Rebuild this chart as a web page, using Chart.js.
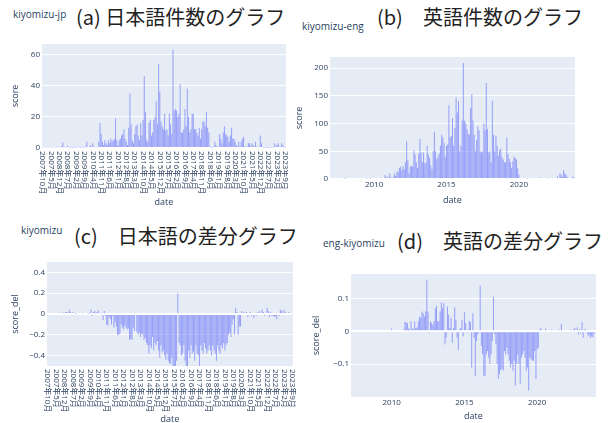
<!DOCTYPE html>
<html>
<head>
<meta charset="utf-8">
<script src="https://cdn.jsdelivr.net/npm/chart.js@4.4.0/dist/chart.umd.min.js"></script>
<style>
  html, body { margin: 0; padding: 0; background: #fff; width: 616px; height: 423px; overflow: hidden; }
  body { position: relative; }
  canvas { position: absolute; }
  .name { position: absolute; font-family: "Open Sans", sans-serif; font-size: 10px; line-height: 1; color: #2a3f5f; white-space: nowrap; }
  .cap { position: absolute; font-family: "Noto Sans CJK JP", sans-serif; font-size: 20px; line-height: 1; color: #222; white-space: nowrap; }
</style>
</head>
<body>
<div class="name" style="left:13px;top:9px">kiyomizu-jp</div>
<div class="cap" style="left:76px;top:7px">(a) 日本語件数のグラフ</div>
<div class="name" style="left:302px;top:21px">kiyomizu-eng</div>
<div class="cap" style="left:377px;top:7px">(b)　英語件数のグラフ</div>
<div class="name" style="left:21px;top:225px">kiyomizu</div>
<div class="cap" style="left:74px;top:226px">(c)　日本語の差分グラフ</div>
<div class="name" style="left:323px;top:238px">eng-kiyomizu</div>
<div class="cap" style="left:397px;top:231px">(d)　英語の差分グラフ</div>

<canvas id="chartA" width="288" height="180" style="left:0;top:30px"></canvas>
<canvas id="chartB" width="296" height="170" style="left:290px;top:40px"></canvas>
<canvas id="chartC" width="296" height="190" style="left:0;top:240px"></canvas>
<canvas id="chartD" width="310" height="180" style="left:300px;top:250px"></canvas>

<script>
// month categories of the Japanese charts are sorted as strings (10,11,12,1..9 in each year)
const jpYears = [2007, 2008, 2009, 2010, 2011, 2012, 2013, 2014, 2015, 2016, 2017, 2018, 2019, 2020, 2021, 2022, 2023];
const jpMonthOrder = [10, 11, 12, 1, 2, 3, 4, 5, 6, 7, 8, 9];
const jpMonths = jpYears.flatMap(y => jpMonthOrder.map(m => y + '年' + m + '月'));
const jpTickStep = 7;

function monthRange(year, month, count) {
    const out = [];
    for (let i = 0; i < count; i++) {
        const k = (year * 12 + month - 1) + i;
        out.push(Math.floor(k / 12) + '-' + String(k % 12 + 1).padStart(2, '0'));
    }
    return out;
}
const engMonths = monthRange(2007, 1, 203);
const engDiffMonths = monthRange(2007, 4, 202);
const engTickMonths = ['2010-01', '2015-01', '2020-01'];

// (a) kiyomizu-jp score
const jpCounts = [
    0.5, 0.5, 0.5, 0.5, 0.5, 0.5, 0.5, 0.5, 0.5, 0.5, 0.5, 0.5,
    1, 0.5, 0.5, 0.5, 1.5, 3.5, 1, 0.5, 0.5, 1.5, 0.5, 0.3,
    0.3, 0.3, 0.3, 0.3, 0.3, 0.3, 0.5, 1, 0.3, 0.3, 0.3, 0.3,
    1, 4, 0.5, 0.5, 2, 1, 3, 1, 0.5, 0.5, 0.5, 4,
    16, 9, 4, 2, 5, 3, 2, 5, 3, 6, 4, 5,
    6, 19, 5, 2, 5, 6, 8, 9, 12, 6, 4, 2,
    13, 35, 15, 5, 3, 9, 14, 15, 8, 5, 16, 8,
    18, 46, 23, 5, 4, 16, 18, 8, 10, 18, 20, 30,
    15, 54, 36, 17, 14, 12, 22, 11, 12, 8, 22, 15,
    9, 63, 24, 25, 24, 20, 22, 41, 10, 10, 12, 25,
    14, 38, 20, 10, 12, 22, 22, 12, 12, 10, 8, 13,
    6, 12, 17, 17, 14, 23, 13, 10, 1, 0.3, 0.3, 0.5,
    4, 2, 0.5, 1, 9, 6, 3, 10, 14, 9, 8, 7,
    4, 8, 13, 6, 6, 4, 2, 1, 4, 1, 4, 6,
    7, 1, 0.5, 1, 3, 3, 1, 3, 2, 1, 4, 1,
    0.5, 1, 8, 3, 0.5, 0.3, 0.3, 0.3, 0.3, 0.3, 0.3, 0.3,
    0.3, 0.5, 3, 1, 2, 3, 1, 1, 3, 2, 0.5, 0.3
];

// (b) kiyomizu-eng score, monthly from 2007-01
const engCounts = [
    0, 0, 0, 0, 0, 0, 0, 0, 0, 0, 0, 0,
    0.5, 0, 0, 0, 0, 0, 0, 0, 0, 0, 0, 0,
    0, 0, 0, 0, 0, 0, 1, 0, 0, 1, 0, 0,
    0, 0, 0, 0, 0, 0, 0, 0, 0, 7, 3, 5,
    2, 10, 3, 2, 4, 10, 6, 14, 12, 20, 22, 16,
    24, 18, 30, 68, 34, 10, 22, 24, 22, 52, 44, 30,
    20, 45, 72, 48, 30, 48, 28, 30, 60, 44, 38, 25,
    18, 50, 85, 50, 36, 40, 46, 60, 80, 75, 65, 40,
    60, 62, 133, 75, 78, 110, 60, 92, 147, 120, 140, 50,
    60, 105, 209, 105, 100, 90, 82, 80, 128, 153, 105, 80,
    50, 70, 95, 88, 50, 48, 50, 100, 88, 173, 90, 48,
    50, 30, 141, 80, 50, 78, 60, 42, 52, 55, 40, 35,
    30, 30, 75, 45, 36, 30, 20, 32, 40, 38, 35, 20,
    8, 2, 0, 0, 0, 0, 0, 1, 0, 0, 0, 0,
    0, 1.5, 0, 0, 0, 3, 0, 0, 0, 0, 0, 0,
    1, 0, 0, 0, 0, 0, 2, 0, 5, 0, 10, 8,
    4, 16, 10, 8, 4, 2, 0, 0, 3, 4, 1
];

// (c) kiyomizu score_del, same categories as (a)
const jpDiff = [
    0.01, 0.01, 0.01, 0.01, 0.01, 0.01, 0.01, 0.01, 0.01, 0.01, 0.015, 0.01,
    0.01, 0.015, 0.01, 0.02, 0.02, 0.015, 0.04, 0.02, 0.01, 0.02, 0.01, 0.005,
    0.005, 0.01, 0.01, 0.01, 0.01, 0.005, 0.01, 0.01, 0.01, 0.01, 0.005, 0.005,
    0.04, -0.02, 0.02, 0.03, 0.005, 0.02, 0.035, 0.005, 0, 0.005, -0.06, 0.03,
    -0.02, -0.1, -0.11, -0.03, -0.05, -0.1, -0.02, -0.13, -0.08, -0.12, -0.2, -0.2,
    -0.19, -0.1, -0.13, -0.15, -0.11, -0.13, -0.15, -0.14, -0.25, -0.24, -0.25, -0.13,
    -0.16, 0.01, -0.17, -0.2, -0.18, -0.22, -0.19, -0.2, -0.25, -0.23, -0.28, -0.3,
    -0.38, -0.3, -0.33, -0.22, -0.35, -0.28, -0.3, -0.26, -0.35, -0.42, -0.3, -0.37,
    -0.35, -0.4, -0.44, -0.38, -0.45, -0.47, -0.48, -0.42, -0.5, -0.5, -0.5, -0.45,
    0.2, -0.28, -0.3, -0.4, -0.38, -0.3, -0.45, -0.5, -0.5, -0.35, -0.42, -0.3,
    -0.38, -0.36, -0.45, -0.3, -0.38, -0.4, -0.5, -0.3, -0.35, -0.38, -0.28, -0.33,
    -0.38, -0.35, -0.3, -0.35, -0.4, -0.3, -0.35, -0.38, -0.45, -0.3, -0.35, -0.38,
    -0.3, -0.33, -0.28, -0.35, -0.3, -0.28, -0.2, -0.18, -0.22, -0.1, -0.05, -0.2,
    0.06, 0.02, -0.2, -0.12, -0.12, 0.03, 0.01, 0.02, -0.01, 0.02, -0.03, 0.01,
    0.02, -0.02, 0.01, -0.04, 0.01, -0.02, 0.02, 0.01, 0.03, -0.01, 0.04, 0.02,
    -0.02, 0.01, 0.06, 0.03, -0.03, 0.02, -0.02, -0.02, -0.03, -0.02, -0.05, 0.01,
    -0.02, 0.04, 0.03, -0.01, 0.04, 0.02, -0.01, 0.01, 0.02, 0.01, -0.01, -0.005
];

// (d) eng-kiyomizu score_del, monthly from 2007-04
const engDiff = [
    0.003, 0.003, 0.003, 0.003, 0.003, 0.003, 0.003, 0.003, 0.003, 0.003,
    0.003, 0.003, 0.003, 0.003, 0.003, 0.003, 0.003, 0.003, 0.003, 0.003,
    0.003, 0.003, 0.003, 0.003, 0.003, 0.003, 0.003, 0.003, 0.003, 0.003,
    0.003, 0.003, 0.003, 0.008, 0.003, 0.003, 0.003, 0.003, 0.003, 0.003,
    0.003, 0.003, 0.003, 0.005, 0.028, 0.027, 0.025, 0.008, 0.005, 0.03,
    0.008, 0.006, 0.03, 0.01, 0.012, 0.03, 0.045, 0.04, 0.06, 0.055,
    0.045, 0.06, 0.157, 0.06, -0.005, 0.03, 0.025, 0.02, 0.03, 0.07,
    0.078, 0.03, 0.03, 0.06, 0.087, 0.07, 0.086, -0.04, -0.02, 0.075,
    0.05, 0.01, 0.04, -0.035, 0.01, 0.073, 0.035, -0.02, -0.057, 0.005,
    0.01, 0.035, -0.015, 0.058, 0.025, -0.005, 0.005, 0.032, 0.028, -0.11,
    0.055, -0.02, -0.137, -0.03, -0.01, -0.005, 0.138, -0.045, -0.07, -0.137,
    -0.135, -0.07, -0.06, -0.08, -0.1, -0.07, -0.03, 0.105, -0.01, -0.04,
    -0.1, -0.145, -0.13, -0.117, -0.115, -0.12, -0.06, -0.07, -0.05, -0.07,
    -0.09, -0.11, -0.1, -0.12, -0.09, -0.165, -0.1, -0.07, -0.1, -0.16,
    -0.08, -0.07, -0.06, -0.08, -0.12, -0.11, -0.18, -0.08, -0.085, -0.09,
    -0.09, -0.06, -0.145, -0.055, -0.05, 0.005, 0.01, 0.003, 0.003, 0.003,
    0.008, 0.003, 0.003, 0.003, 0.003, 0.005, 0.003, 0.003, 0.004, 0.003,
    0.003, 0.005, 0.003, 0.022, 0.003, 0.003, 0.003, 0.003, 0.003, 0.003,
    0.003, 0.005, 0.003, 0.005, 0.01, 0.003, 0.012, -0.01, 0.007, -0.008,
    0.027, -0.02, 0.005, 0.006, -0.005, -0.015, -0.01, -0.02, -0.015, -0.018,
    -0.008, 0.003
];

const yTicksA = [0, 20, 40, 60];
const yTicksB = [0, 50, 100, 150, 200];
const yTicksC = [-0.4, -0.2, 0, 0.2, 0.4];
const yTicksD = [-0.1, 0, 0.1];

const barColor = 'rgba(99, 110, 250, 0.6)';
const textColor = '#2a3f5f';

// plotly-like plot background
const plotBg = {
    id: 'plotBg',
    beforeDraw(chart) {
        const { ctx, chartArea: a } = chart;
        ctx.save();
        ctx.fillStyle = '#E5ECF6';
        ctx.fillRect(a.left, a.top, a.right - a.left, a.bottom - a.top);
        ctx.restore();
    }
};

// x labels turned clockwise, reading downwards like the original
const downLabels = {
    id: 'downLabels',
    afterDraw(chart, args, opts) {
        if (!opts.show) return;
        const x = chart.scales.x, ctx = chart.ctx;
        ctx.save();
        ctx.font = '8px "Open Sans", "Noto Sans CJK JP"';
        ctx.fillStyle = textColor;
        ctx.textAlign = 'left';
        ctx.textBaseline = 'middle';
        x.ticks.forEach(t => {
            ctx.save();
            ctx.translate(x.getPixelForValue(t.value), chart.chartArea.bottom + 3);
            ctx.rotate(Math.PI / 2);
            ctx.fillText(x.getLabelForValue(t.value), 0, 0);
            ctx.restore();
        });
        ctx.restore();
    }
};

function makeChart(id, labels, values, cfg) {
    return new Chart(document.getElementById(id), {
        type: 'bar',
        data: {
            labels: labels,
            datasets: [{
                data: values,
                backgroundColor: barColor,
                borderWidth: 0,
                categoryPercentage: 1,
                barPercentage: 0.85
            }]
        },
        options: {
            responsive: false,
            animation: false,
            layout: { padding: cfg.pad },
            plugins: {
                legend: { display: false },
                tooltip: { enabled: false },
                downLabels: { show: cfg.rotated }
            },
            scales: {
                x: {
                    grid: { display: false, drawTicks: false },
                    border: { display: false },
                    ticks: {
                        display: !cfg.rotated,
                        autoSkip: false,
                        maxRotation: 0,
                        minRotation: 0,
                        padding: 1,
                        color: textColor,
                        font: { size: 8, family: 'Open Sans' },
                        callback(v) { return this.getLabelForValue(v).slice(0, 4); }
                    },
                    afterBuildTicks: ax => { ax.ticks = ax.ticks.filter(t => cfg.keepTick(t.value, labels[t.value])); },
                    afterFit: ax => { ax.height = cfg.xh; },
                    title: {
                        display: true, text: 'date', color: textColor,
                        font: { size: 9, family: 'Open Sans' },
                        padding: { top: 0, bottom: cfg.xtPad }
                    }
                },
                y: {
                    min: cfg.ymin,
                    max: cfg.ymax,
                    afterBuildTicks: ax => { ax.ticks = cfg.yTicks.map(v => ({ value: v })); },
                    afterFit: ax => { ax.width = cfg.yw; },
                    grid: {
                        color: '#ffffff',
                        lineWidth: c => (c.tick && c.tick.value === 0 ? 2 : 1),
                        drawTicks: false
                    },
                    border: { display: false },
                    ticks: {
                        padding: 2,
                        color: textColor,
                        font: { size: 8, family: 'Open Sans' },
                        callback: v => (v < 0 ? '\u2212' + Math.abs(v) : String(v))
                    },
                    title: {
                        display: true, text: cfg.ytitle, color: textColor,
                        font: { size: 9, family: 'Open Sans' },
                        padding: { top: cfg.ytPad, bottom: 0 }
                    }
                }
            }
        },
        plugins: [plotBg, downLabels]
    });
}

const everySeventh = i => i % jpTickStep === 0;
const yearStart = (i, lab) => engTickMonths.includes(lab);

makeChart('chartA', jpMonths, jpCounts, {
    rotated: true, keepTick: everySeventh, ytitle: 'score',
    ymin: 0, ymax: 66.7, yTicks: yTicksA,
    pad: { top: 14, right: 2, left: 0, bottom: 0 }, yw: 42, xh: 62, xtPad: 2.6, ytPad: 10
});
makeChart('chartB', engMonths, engCounts, {
    rotated: false, keepTick: yearStart, ytitle: 'score',
    ymin: 0, ymax: 220, yTicks: yTicksB,
    pad: { top: 17, right: 11, left: 0, bottom: 0 }, yw: 40, xh: 31, xtPad: 4.6, ytPad: 4
});
makeChart('chartC', jpMonths, jpDiff, {
    rotated: true, keepTick: everySeventh, ytitle: 'score_del',
    ymin: -0.5, ymax: 0.5, yTicks: yTicksC,
    pad: { top: 22, right: 3, left: 0, bottom: 0 }, yw: 47, xh: 64, xtPad: 5.6, ytPad: 9.6
});
makeChart('chartD', engDiffMonths, engDiff, {
    rotated: false, keepTick: yearStart, ytitle: 'score_del',
    ymin: -0.2, ymax: 0.174, yTicks: yTicksD,
    pad: { top: 24, right: 14, left: 0, bottom: 0 }, yw: 51, xh: 33, xtPad: 7.9, ytPad: 10.6
});
</script>
</body>
</html>
